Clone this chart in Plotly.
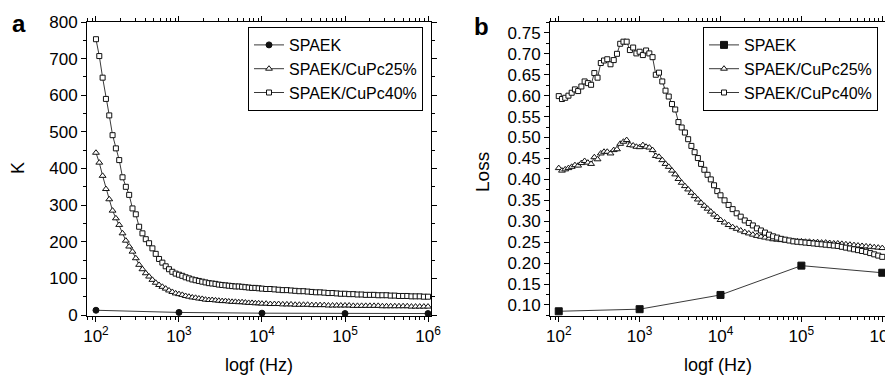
import plotly.graph_objects as go

# ---------------- data ----------------
LOGF = [2.00, 2.04, 2.08, 2.12, 2.16, 2.20, 2.24, 2.28, 2.32, 2.36, 2.40, 2.44, 2.48, 2.52, 2.56,
        2.60, 2.64, 2.68, 2.72, 2.76, 2.80, 2.84, 2.88, 2.92, 2.96,
        3.00, 3.04, 3.08, 3.12, 3.16, 3.20, 3.24, 3.28, 3.32, 3.36, 3.40, 3.44, 3.48, 3.52, 3.56,
        3.60, 3.64, 3.68, 3.72, 3.76, 3.80, 3.84, 3.88, 3.92, 3.96,
        4.00, 4.05, 4.10, 4.15, 4.20, 4.25, 4.30, 4.35, 4.40, 4.45, 4.50, 4.55, 4.60, 4.65, 4.70,
        4.75, 4.80, 4.85, 4.90, 4.95, 5.00, 5.05, 5.10, 5.15, 5.20, 5.25, 5.30, 5.35, 5.40, 5.45,
        5.50, 5.55, 5.60, 5.65, 5.70, 5.75, 5.80, 5.85, 5.90, 5.95, 6.00]

SPAEK_F = [1e2, 1e3, 1e4, 1e5, 1e6]

K_SPAEK = [13, 7, 5, 4, 4]
K_CUPC25 = [443, 416, 380, 344, 316, 285, 264, 246, 223, 203, 187, 173, 155, 137, 125, 114, 105, 96, 88, 82,
            77, 72, 67, 63, 59,
            57, 55, 52, 50, 48, 47, 45, 44, 42, 41, 41, 40, 39, 38, 38, 37, 36, 36, 35, 35, 34, 33, 33, 32, 32,
            31, 31, 30, 30, 30, 29, 29, 29, 28, 28, 28, 28, 27, 27, 27, 27, 26, 26, 26, 26, 26, 26,
            25, 25, 25, 25, 25, 25, 25, 24, 24, 24, 24, 24, 24, 24, 23, 23, 23, 23, 23]
K_CUPC40 = [753, 707, 648, 590, 545, 491, 455, 423, 376, 350, 328, 291, 275, 241, 223, 207, 196, 182, 167, 153,
            143, 133, 125, 118, 113,
            110, 107, 103, 100, 97, 95, 93, 91, 89, 87, 86, 85, 83, 82, 81, 80, 79, 78, 78, 77, 76, 75, 74, 74, 73,
            72, 71, 71, 70, 69, 68, 68, 67, 66, 65, 65, 64, 63, 62, 62, 61, 60, 60, 59, 58, 58, 57, 57, 56, 56,
            55, 55, 55, 54, 54, 54, 53, 53, 52, 52, 52, 51, 51, 51, 50, 50]

LOSS_SPAEK = [0.085, 0.090, 0.124, 0.194, 0.177]
LOSS_CUPC25 = [0.427, 0.421, 0.424, 0.427, 0.430, 0.434, 0.433, 0.439, 0.444, 0.440, 0.437, 0.453, 0.448,
               0.462, 0.466, 0.466, 0.462, 0.470, 0.472, 0.485, 0.490, 0.494, 0.482, 0.481, 0.478,
               0.477, 0.482, 0.478, 0.476, 0.470, 0.456, 0.454, 0.446, 0.437, 0.430, 0.421, 0.412, 0.401,
               0.392, 0.384, 0.376, 0.368, 0.360, 0.352, 0.344, 0.337, 0.330, 0.323, 0.316, 0.310,
               0.303, 0.297, 0.291, 0.286, 0.282, 0.278, 0.274, 0.271, 0.268, 0.265, 0.263, 0.261, 0.259,
               0.257, 0.256, 0.255, 0.254, 0.253, 0.253, 0.252, 0.252, 0.251, 0.251, 0.250, 0.250, 0.249,
               0.249, 0.248, 0.247, 0.247, 0.246, 0.245, 0.244, 0.243, 0.242, 0.241, 0.240, 0.239, 0.238,
               0.237, 0.236]
LOSS_CUPC40 = [0.599, 0.592, 0.595, 0.600, 0.607, 0.615, 0.611, 0.622, 0.634, 0.630, 0.626, 0.654, 0.643,
               0.678, 0.684, 0.687, 0.675, 0.685, 0.700, 0.724, 0.729, 0.729, 0.709, 0.715, 0.701,
               0.705, 0.697, 0.708, 0.701, 0.692, 0.650, 0.655, 0.634, 0.612, 0.598, 0.580, 0.567, 0.537,
               0.524, 0.512, 0.496, 0.480, 0.465, 0.451, 0.437, 0.423, 0.411, 0.400, 0.386, 0.372,
               0.362, 0.350, 0.339, 0.329, 0.319, 0.311, 0.302, 0.296, 0.290, 0.283, 0.278, 0.273, 0.268,
               0.264, 0.261, 0.258, 0.256, 0.254, 0.252, 0.251, 0.250, 0.249, 0.248, 0.247, 0.246, 0.245,
               0.244, 0.243, 0.242, 0.241, 0.239, 0.237, 0.235, 0.233, 0.231, 0.229, 0.227, 0.224, 0.221,
               0.218, 0.215]

SERIES_NAMES = ["SPAEK", "SPAEK/CuPc25%", "SPAEK/CuPc40%"]
X_TICKVALS = [1e2, 1e3, 1e4, 1e5, 1e6]
X_TICKTEXT = ["10<sup>2</sup>", "10<sup>3</sup>", "10<sup>4</sup>", "10<sup>5</sup>", "10<sup>6</sup>"]
K_TICKS = [0, 100, 200, 300, 400, 500, 600, 700, 800]
LOSS_TICKS = [0.10, 0.15, 0.20, 0.25, 0.30, 0.35, 0.40, 0.45, 0.50, 0.55, 0.60, 0.65, 0.70, 0.75]

FREQ = [10 ** v for v in LOGF]

FONT = "Liberation Sans, Arial, Helvetica, sans-serif"
# page has an 8px body margin, so the figure is drawn 8px in from the window's corner
OFF = 8
W, H = 893 - OFF, 376 - OFF
LINE = dict(color="#222", width=0.9)

fig = go.Figure()

def add(x, y, name, symbol, size, xa, ya, legend, filled=False):
    fig.add_trace(go.Scatter(
        x=x, y=y, name=name, mode="lines+markers", xaxis=xa, yaxis=ya, legend=legend,
        line=LINE,
        marker=dict(symbol=symbol, size=size, color="#111" if filled else "white",
                    line=dict(color="#111", width=1)),
    ))

add(SPAEK_F, K_SPAEK, SERIES_NAMES[0], "circle", 6, "x", "y", "legend", filled=True)
add(FREQ, K_CUPC25, SERIES_NAMES[1], "triangle-up", 6, "x", "y", "legend")
add(FREQ, K_CUPC40, SERIES_NAMES[2], "square", 5, "x", "y", "legend")

add(SPAEK_F, LOSS_SPAEK, SERIES_NAMES[0], "square", 7, "x2", "y2", "legend2", filled=True)
add(FREQ, LOSS_CUPC25, SERIES_NAMES[1], "triangle-up", 6, "x2", "y2", "legend2")
add(FREQ, LOSS_CUPC40, SERIES_NAMES[2], "square", 5, "x2", "y2", "legend2")

def px_x(p):
    return (p - OFF) / W

def px_y(p):
    return 1 - (p - OFF) / H

ydom = [px_y(316), px_y(22)]
common_x = dict(type="log", tickmode="array", tickvals=X_TICKVALS, ticktext=X_TICKTEXT,
                ticks="outside", ticklen=5, tickcolor="black", showline=True, linecolor="black",
                linewidth=1, mirror="allticks", showgrid=False, zeroline=False, automargin=False,
                ticklabeloverflow="allow",
                tickfont=dict(family=FONT, size=17, color="black"),
                minor=dict(ticks="outside", ticklen=3, dtick="D1", tickcolor="black", showgrid=False))
common_y = dict(ticks="outside", ticklen=5, tickcolor="black", showline=True, linecolor="black",
                linewidth=1, mirror="allticks", showgrid=False, zeroline=False, automargin=False,
                tickfont=dict(family=FONT, size=17, color="black"))

fig.update_layout(
    width=W, height=H, margin=dict(l=0, r=0, t=0, b=0, autoexpand=False),
    paper_bgcolor="white", plot_bgcolor="white",
    font=dict(family=FONT, size=16, color="black"),
    xaxis=dict(domain=[px_x(87), px_x(431)], range=[1.892, 6.036], anchor="y", **common_x),
    yaxis=dict(domain=ydom, range=[-2.7, 800], anchor="x", tickmode="array", tickvals=K_TICKS,
               minor=dict(ticks="outside", ticklen=3, dtick=50, tickcolor="black", showgrid=False),
               **common_y),
    xaxis2=dict(domain=[px_x(550), px_x(886)], range=[1.892, 6.046], anchor="y2", **common_x),
    yaxis2=dict(domain=ydom, range=[0.0737, 0.776], anchor="x2", tickmode="array", tickvals=LOSS_TICKS,
                ticktext=[f"{v:.2f}" for v in LOSS_TICKS],
                minor=dict(ticks="outside", ticklen=3, dtick=0.025, tickcolor="black", showgrid=False),
                **common_y),
    legend=dict(x=px_x(423), y=px_y(27), xanchor="right", yanchor="top", bgcolor="white",
                bordercolor="black", borderwidth=1, font=dict(family=FONT, size=16),
                itemwidth=30, tracegroupgap=0),
    legend2=dict(x=px_x(878), y=px_y(27), xanchor="right", yanchor="top", bgcolor="white",
                 bordercolor="black", borderwidth=1, font=dict(family=FONT, size=16),
                 itemwidth=30, tracegroupgap=0),
    showlegend=True,
)

annots = [
    dict(text="<b>a</b>", x=px_x(19), y=px_y(24), font=dict(size=24)),
    dict(text="<b>b</b>", x=px_x(481), y=px_y(26), font=dict(size=24)),
    dict(text="K", x=px_x(18), y=px_y(168), textangle=-90, font=dict(size=18)),
    dict(text="Loss", x=px_x(482), y=px_y(172), textangle=-90, font=dict(size=19)),
    dict(text="logf (Hz)", x=px_x(259), y=px_y(365), font=dict(size=18)),
    dict(text="logf (Hz)", x=px_x(718), y=px_y(365), font=dict(size=18)),
]
for a in annots:
    a.update(xref="paper", yref="paper", showarrow=False, xanchor="center", yanchor="middle")
    a["font"].update(family=FONT, color="black")
    fig.add_annotation(**a)

fig.write_html("out.html")
